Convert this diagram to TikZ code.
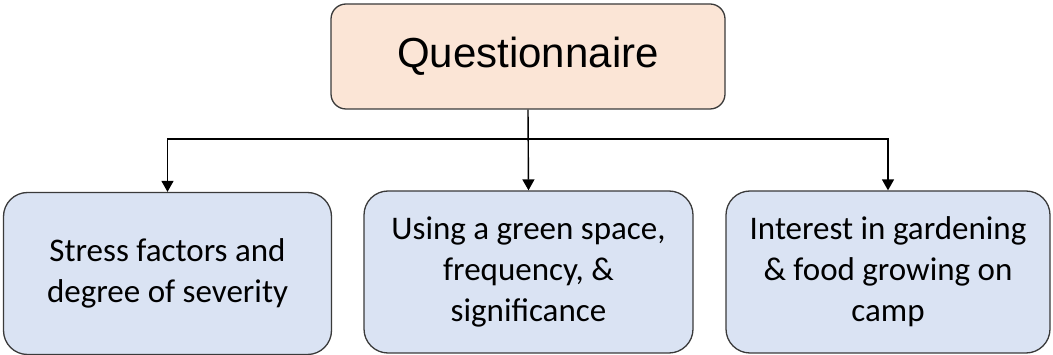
\documentclass[tikz,border=0pt]{standalone}
\usepackage{fontspec}
\setmainfont{Carlito}
\newfontfamily\headfont{Liberation Sans}
\usetikzlibrary{arrows.meta}
\definecolor{peach}{HTML}{FBE5D6}
\definecolor{paleblue}{HTML}{DAE3F3}
\definecolor{rim}{HTML}{3A3A3A}
\tikzset{
  headbox/.style={draw=rim,line width=1.3pt,fill=peach,rounded corners=15pt,
    minimum width=394pt,minimum height=105pt,font=\headfont\fontsize{42}{48}\selectfont},
  itembox/.style={draw=rim,line width=1.3pt,fill=paleblue,rounded corners=24pt,
    minimum height=162pt,align=center,font=\fontsize{33}{41}\selectfont},
  link/.style={line width=1.4pt,-{Triangle[width=12pt,length=11pt]}}
}
\begin{document}
\begin{tikzpicture}[x=1pt,y=-1pt]
            \useasboundingbox (0,0) rectangle (1053,355);
            \node[headbox] (quest) at (528,56.5) {Questionnaire};
            \node[itembox,minimum width=328pt] (stress) at (167.5,273.5) {Stress factors and\\degree of severity};
            \node[itembox,minimum width=329pt] (green) at (528.5,272) {Using a green space,\\frequency, \&\\significance};
            \node[itembox,minimum width=324pt] (garden) at (888,272) {Interest in gardening\\\& food growing on\\camp};
            \coordinate (split) at (528,139);
            \draw[link] (quest.south) -- (green.north);
            \draw[link] (split) -| (stress.north);
            \draw[link] (split) -| (garden.north);
        \end{tikzpicture}
\end{document}
